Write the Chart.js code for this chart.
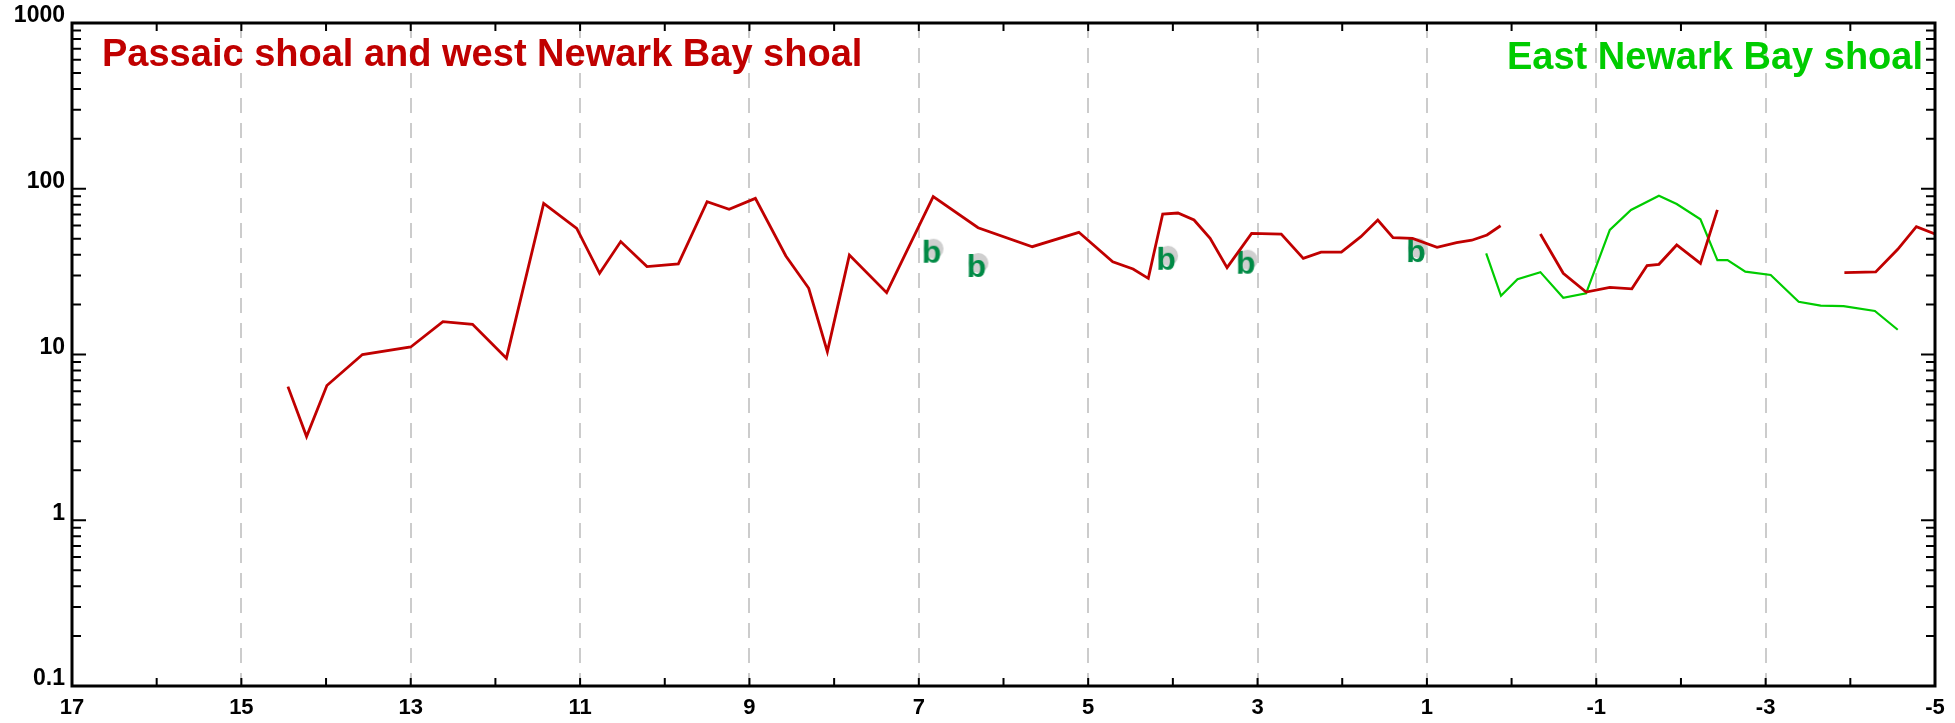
<!DOCTYPE html>
<html>
<head>
<meta charset="utf-8">
<script src="https://cdn.jsdelivr.net/npm/chart.js@4/dist/chart.umd.min.js"></script>
<style>
  html, body { margin: 0; padding: 0; background: #fff; }
  #wrap { width: 1955px; height: 723px; }
</style>
</head>
<body>
<div id="wrap"><canvas id="chart" width="1955" height="723"></canvas></div>
<script>
// Passaic shoal and west Newark Bay shoal (red), three pieces
const passaicX1 = [14.45, 14.23, 13.99, 13.57, 13.0, 12.62, 12.27, 11.87, 11.43, 11.04, 10.77, 10.52, 10.21, 9.84,
  9.5, 9.24, 8.93, 8.57, 8.3, 8.08, 7.82, 7.38, 6.83, 6.3, 5.66, 5.11, 4.71, 4.47, 4.29, 4.12, 3.94, 3.75, 3.56,
  3.36, 3.07, 2.72, 2.46, 2.25, 2.01, 1.78, 1.58, 1.4, 1.17, 0.88, 0.65, 0.47, 0.29, 0.13];
const passaicY1 = [6.4, 3.2, 6.5, 10.0, 11.1, 15.8, 15.2, 9.5, 81.7, 57.7, 30.9, 48.0, 33.9, 35.2,
  83.5, 75.2, 87.5, 39.3, 25.1, 10.4, 39.8, 23.6, 89.6, 58.2, 44.7, 54.6, 36.3, 32.8, 28.8, 70.4, 71.4, 64.8, 50.2,
  33.4, 53.8, 53.3, 38.0, 41.5, 41.5, 51.4, 64.8, 50.7, 50.2, 44.3, 47.3, 48.9, 52.6, 59.8];
const passaicX2 = [-0.34, -0.61, -0.88, -1.16, -1.42, -1.6, -1.74, -1.95, -2.23, -2.43];
const passaicY2 = [53.3, 30.9, 23.8, 25.4, 24.9, 34.4, 35.0, 45.8, 35.5, 74.5];
const passaicX3 = [-3.93, -4.3, -4.56, -4.78, -5.0];
const passaicY3 = [31.2, 31.5, 43.1, 59.0, 53.3];

// East Newark Bay shoal (green)
const eastX = [0.3, 0.125, -0.07, -0.34, -0.61, -0.88, -1.16, -1.41, -1.74, -1.95, -2.23, -2.43, -2.55, -2.76,
  -3.06, -3.39, -3.65, -3.92, -4.29, -4.56];
const eastY = [40.8, 22.6, 28.5, 31.4, 22.0, 23.4, 56.4, 74.5, 90.8, 80.9, 65.4, 37.1, 37.1, 31.6,
  30.2, 20.8, 19.7, 19.6, 18.3, 14.1];

// "b" markers
const markX = [6.85, 6.32, 4.08, 3.14, 1.13];
const markY = [41.7, 34.2, 37.8, 35.8, 42.1];

const xMin = -5, xMax = 17;
const yMin = 0.1, yMax = 1000;
const xLabelValues = [17, 15, 13, 11, 9, 7, 5, 3, 1, -1, -3, -5];
const gridValues = [15, 13, 11, 9, 7, 5, 3, 1, -1, -3];

const RED = '#c00000';
const GREEN = '#00cc00';
const FONT = "'Liberation Sans', Arial, sans-serif";

const pts = (xs, ys) => xs.map((x, i) => ({ x: x, y: ys[i] }));

// marker picture: grey dot with a green "b"
const bMark = document.createElement('canvas');
bMark.width = 44; bMark.height = 44;
{
  const c = bMark.getContext('2d');
  c.fillStyle = '#cfcfcf';
  c.beginPath(); c.arc(24, 19, 10, 0, Math.PI * 2); c.fill();
  c.fillStyle = '#008a45';
  c.font = 'bold 32px ' + FONT;
  c.textAlign = 'center';
  c.textBaseline = 'alphabetic';
  c.fillText('b', 22, 33);
}

const frameTicks = {
  id: 'frameTicks',
  afterDatasetsDraw(chart) {
    const { ctx, chartArea: a } = chart;
    ctx.save();
    ctx.font = 'bold 38px ' + FONT;
    ctx.textBaseline = 'alphabetic';
    ctx.fillStyle = RED;
    ctx.textAlign = 'left';
    ctx.fillText('Passaic shoal and west Newark Bay shoal', a.left + 30, a.top + 43);
    ctx.fillStyle = GREEN;
    ctx.textAlign = 'right';
    ctx.fillText('East Newark Bay shoal', a.right - 12, a.top + 46);
    ctx.restore();
  },
  afterDraw(chart) {
    const { ctx, chartArea: a, scales: { x, y } } = chart;
    ctx.save();
    ctx.strokeStyle = '#000';
    ctx.lineWidth = 2;
    ctx.beginPath();
    for (let v = xMin; v <= xMax; v++) {
      const px = x.getPixelForValue(v);
      ctx.moveTo(px, a.bottom); ctx.lineTo(px, a.bottom - 8);
      ctx.moveTo(px, a.top); ctx.lineTo(px, a.top + 8);
    }
    for (let d = -1; d <= 3; d++) {
      for (let m = 1; m <= 9; m++) {
        const v = m * Math.pow(10, d);
        if (v > yMax * 1.0001) break;
        const py = y.getPixelForValue(v);
        const len = m === 1 ? 14 : 9;
        ctx.moveTo(a.left, py); ctx.lineTo(a.left + len, py);
        ctx.moveTo(a.right, py); ctx.lineTo(a.right - len, py);
      }
    }
    ctx.stroke();
    ctx.lineWidth = 3;
    ctx.strokeRect(a.left, a.top, a.right - a.left, a.bottom - a.top);
    ctx.restore();
  }
};

new Chart(document.getElementById('chart'), {
  type: 'line',
  data: {
    datasets: [
      { data: pts(passaicX1, passaicY1), borderColor: RED, borderWidth: 2.8 },
      { data: pts(passaicX2, passaicY2), borderColor: RED, borderWidth: 2.8 },
      { data: pts(passaicX3, passaicY3), borderColor: RED, borderWidth: 2.8 },
      { data: pts(eastX, eastY), borderColor: GREEN, borderWidth: 2.2 },
      { data: pts(markX, markY), showLine: false, pointStyle: bMark, pointRadius: 10 }
    ]
  },
  options: {
    responsive: false,
    animation: false,
    elements: {
      line: { tension: 0, fill: false },
      point: { radius: 0 }
    },
    layout: { padding: { top: 23, right: 20, left: 0, bottom: 0 } },
    plugins: { legend: { display: false }, tooltip: { enabled: false } },
    scales: {
      x: {
        type: 'linear',
        reverse: true,
        min: xMin,
        max: xMax,
        afterFit: (s) => { s.height = 37; },
        ticks: {
          stepSize: 1,
          autoSkip: false,
          maxRotation: 0,
          padding: 9,
          color: '#000',
          font: { family: FONT, size: 22, weight: 'bold' },
          callback: (v) => xLabelValues.includes(v) ? String(v) : ''
        },
        grid: {
          drawTicks: false,
          lineWidth: 2,
          color: (c) => gridValues.includes(c.tick && c.tick.value) ? '#cccccc' : 'rgba(0,0,0,0)'
        },
        border: { display: false, dash: [15, 10] }
      },
      y: {
        type: 'logarithmic',
        min: yMin,
        max: yMax,
        afterFit: (s) => { s.width = 72; },
        ticks: {
          autoSkip: false,
          padding: 7,
          labelOffset: -7,
          color: '#000',
          font: { family: FONT, size: 23, weight: 'bold' },
          callback: (v) => {
            const l = Math.log10(v);
            return Math.abs(l - Math.round(l)) < 1e-6 ? String(Number(v.toPrecision(3))) : '';
          }
        },
        grid: { display: false, drawTicks: false },
        border: { display: false }
      }
    }
  },
  plugins: [frameTicks]
});
</script>
</body>
</html>
